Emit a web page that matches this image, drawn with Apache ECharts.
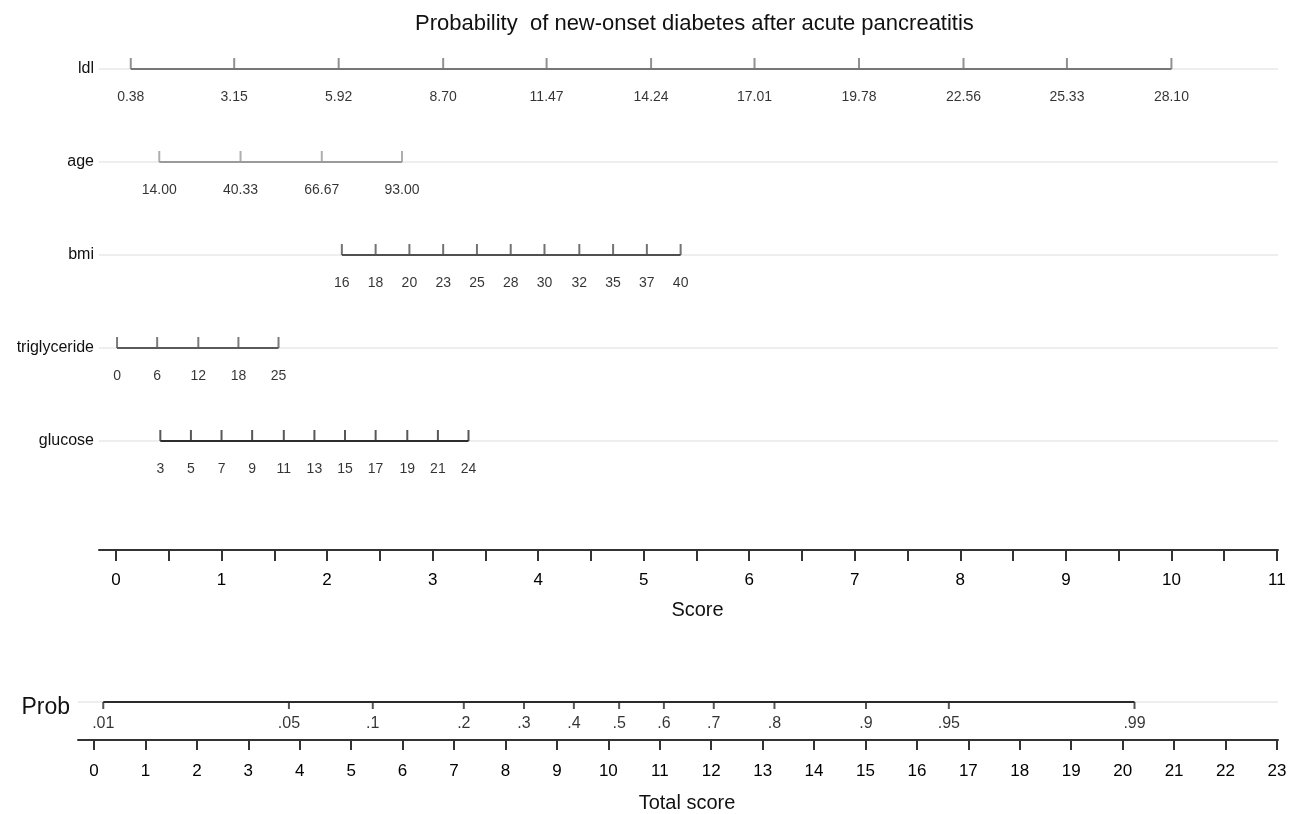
<!DOCTYPE html>
<html>
<head>
<meta charset="utf-8">
<script src="https://cdn.jsdelivr.net/npm/echarts@6/dist/echarts.min.js"></script>
<style>
  html, body { margin: 0; padding: 0; background: #fff; }
  #chart { width: 1295px; height: 814px; }
</style>
</head>
<body>
<div id="chart"></div>
<script>
// variable rows (top to bottom) and the points each tick is worth
var variables = ['ldl', 'age', 'bmi', 'triglyceride', 'glucose'];

var ldlLabels = ['0.38', '3.15', '5.92', '8.70', '11.47', '14.24', '17.01', '19.78', '22.56', '25.33', '28.10'];
var ldlPoints = [0.14, 1.12, 2.11, 3.10, 4.08, 5.07, 6.05, 7.04, 8.03, 9.01, 10.00];

var ageLabels = ['14.00', '40.33', '66.67', '93.00'];
var agePoints = [0.41, 1.18, 1.95, 2.71];

var bmiLabels = ['16', '18', '20', '23', '25', '28', '30', '32', '35', '37', '40'];
var bmiPoints = [2.14, 2.46, 2.78, 3.10, 3.42, 3.74, 4.06, 4.39, 4.71, 5.03, 5.35];

var trigLabels = ['0', '6', '12', '18', '25'];
var trigPoints = [0.01, 0.39, 0.78, 1.16, 1.54];

var glucoseLabels = ['3', '5', '7', '9', '11', '13', '15', '17', '19', '21', '24'];
var glucosePoints = [0.42, 0.71, 1.00, 1.29, 1.59, 1.88, 2.17, 2.46, 2.76, 3.05, 3.34];

// score axes
var scoreTicks = [0, 0.5, 1, 1.5, 2, 2.5, 3, 3.5, 4, 4.5, 5, 5.5, 6, 6.5, 7, 7.5, 8, 8.5, 9, 9.5, 10, 10.5, 11];
var scoreLabels = [0, 1, 2, 3, 4, 5, 6, 7, 8, 9, 10, 11];
var totalTicks = [0, 1, 2, 3, 4, 5, 6, 7, 8, 9, 10, 11, 12, 13, 14, 15, 16, 17, 18, 19, 20, 21, 22, 23];

// probability scale, read against the total score axis
var probLabels = ['.01', '.05', '.1', '.2', '.3', '.4', '.5', '.6', '.7', '.8', '.9', '.95', '.99'];
var probTotals = [0.18, 3.79, 5.42, 7.19, 8.36, 9.33, 10.21, 11.08, 12.05, 13.23, 15.01, 16.62, 20.23];

var rows = [
  { name: 'ldl', labels: ldlLabels, points: ldlPoints, color: '#767676' },
  { name: 'age', labels: ageLabels, points: agePoints, color: '#9a9a9a' },
  { name: 'bmi', labels: bmiLabels, points: bmiPoints, color: '#505050' },
  { name: 'triglyceride', labels: trigLabels, points: trigPoints, color: '#5a5a5a' },
  { name: 'glucose', labels: glucoseLabels, points: glucosePoints, color: '#2e2e2e' }
];

var FONT = 'Liberation Sans, Arial, Helvetica, sans-serif';
var series = [];

rows.forEach(function (r) {
  var first = r.points[0], last = r.points[r.points.length - 1];
  series.push({
    type: 'line',
    xAxisIndex: 0, yAxisIndex: 0,
    data: [[first, r.name], [last, r.name]],
    symbol: 'none',
    silent: true,
    lineStyle: { color: r.color, width: 2 },
    z: 3
  });
  series.push({
    type: 'scatter',
    xAxisIndex: 0, yAxisIndex: 0,
    data: r.points.map(function (p, i) { return { value: [p, r.name], label: { formatter: r.labels[i] } }; }),
    symbol: 'rect',
    symbolSize: [2, 11],
    symbolOffset: [0, '-50%'],
    itemStyle: { color: r.color },
    label: {
      show: true, position: 'bottom', distance: 21,
      color: '#000', fontSize: 14, fontFamily: FONT
    },
    silent: true,
    z: 3
  });
});

// probability line
series.push({
  type: 'line',
  xAxisIndex: 1, yAxisIndex: 1,
  data: [[probTotals[0], 'Prob'], [probTotals[probTotals.length - 1], 'Prob']],
  symbol: 'none',
  silent: true,
  lineStyle: { color: '#2a2a2a', width: 2 },
  z: 3
});
series.push({
  type: 'scatter',
  xAxisIndex: 1, yAxisIndex: 1,
  data: probTotals.map(function (t, i) { return { value: [t, 'Prob'], label: { formatter: probLabels[i] } }; }),
  symbol: 'rect',
  symbolSize: [2, 7],
  symbolOffset: [0, '50%'],
  itemStyle: { color: '#2a2a2a' },
  label: {
    show: true, position: 'bottom', distance: 7,
    color: '#000', fontSize: 16, fontFamily: FONT
  },
  silent: true,
  z: 3
});

var option = {
  backgroundColor: '#fff',
  animation: false,
  title: {
    text: 'Probability  of new-onset diabetes after acute pancreatitis',
    left: 410,
    top: 8,
    textStyle: { fontSize: 22, fontWeight: 'normal', color: '#111', fontFamily: FONT }
  },
  grid: [
    { left: 99, right: 17, top: 69, height: 372 },
    { left: 78, right: 17, top: 702, height: 44 }
  ],
  xAxis: [
    {
      gridIndex: 0,
      type: 'value',
      min: -0.161, max: 11.01,
      position: 'bottom',
      offset: 109,
      name: 'Score',
      nameLocation: 'middle',
      nameGap: 50,
      nameTextStyle: { fontSize: 20, color: '#111', fontFamily: FONT, padding: [0, 0, 0, 18] },
      axisLine: { show: true, lineStyle: { color: '#333', width: 2 } },
      axisTick: { show: true, customValues: scoreTicks, length: 11, lineStyle: { color: '#333', width: 2 } },
      axisLabel: { customValues: scoreLabels, fontSize: 17, margin: 22, color: '#000', fontFamily: FONT },
      splitLine: { show: false }
    },
    {
      gridIndex: 1,
      type: 'value',
      min: -0.311, max: 23.02,
      position: 'bottom',
      name: 'Total score',
      nameLocation: 'middle',
      nameGap: 53,
      nameTextStyle: { fontSize: 20, color: '#111', fontFamily: FONT, padding: [0, 0, 0, 18] },
      axisLine: { show: true, lineStyle: { color: '#333', width: 2 } },
      axisTick: { show: true, customValues: totalTicks, length: 10, lineStyle: { color: '#333', width: 2 } },
      axisLabel: { customValues: totalTicks, fontSize: 17, margin: 23, color: '#000', fontFamily: FONT },
      splitLine: { show: false }
    }
  ],
  yAxis: [
    {
      gridIndex: 0,
      type: 'category',
      data: variables,
      inverse: true,
      boundaryGap: false,
      axisLine: { show: false },
      axisTick: { show: false },
      axisLabel: { fontSize: 16, margin: 5, color: '#111', fontFamily: FONT },
      splitLine: { show: true, lineStyle: { color: '#eeeeee', width: 2 } }
    },
    {
      gridIndex: 1,
      type: 'category',
      data: ['', 'Prob'],
      boundaryGap: false,
      axisLine: { show: false },
      axisTick: { show: false },
      axisLabel: { fontSize: 23, margin: 8, color: '#111', fontFamily: FONT, verticalAlign: 'top', lineHeight: 12 },
      splitLine: { show: true, lineStyle: { color: '#eeeeee', width: 2 } }
    }
  ],
  series: series
};

var chart = echarts.init(document.getElementById('chart'), null, { renderer: 'canvas' });
chart.setOption(option);
</script>
</body>
</html>
